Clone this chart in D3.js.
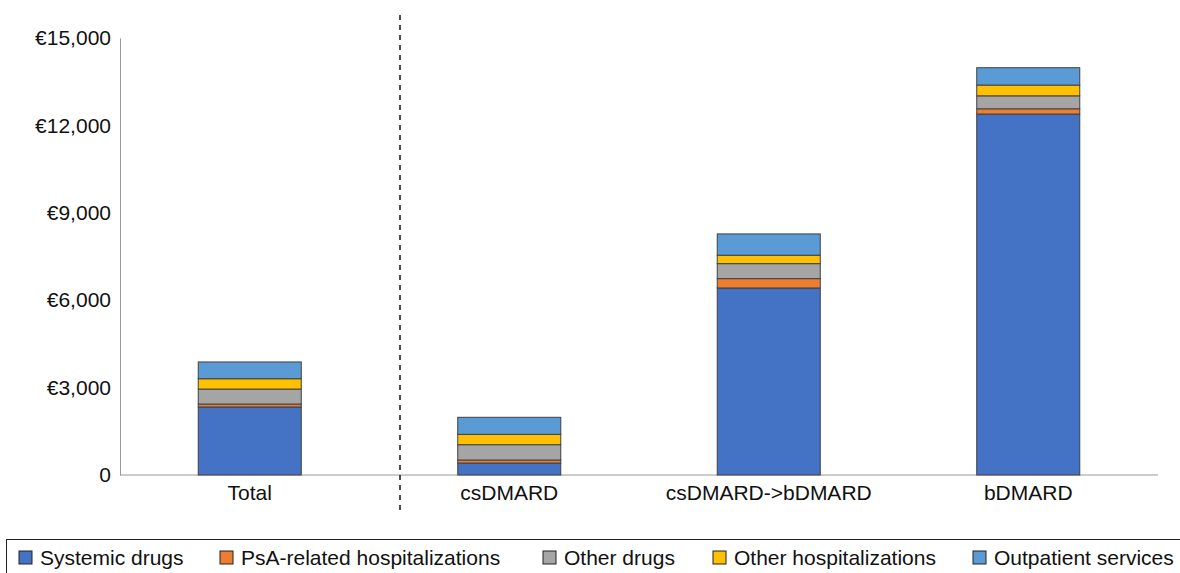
<!DOCTYPE html>
<html>
<head>
<meta charset="utf-8">
<script src="https://cdn.jsdelivr.net/npm/d3@7"></script>
<style>
  body { margin: 0; background: #fff; }
  svg { display: block; font-family: "Liberation Sans", Arial, sans-serif; }
</style>
</head>
<body>
<div id="chart"></div>
<script>
// data
var categories = ['Total', 'csDMARD', 'csDMARD->bDMARD', 'bDMARD'];
var seriesNames = ['Systemic drugs', 'PsA-related hospitalizations', 'Other drugs', 'Other hospitalizations', 'Outpatient services'];
var systemicDrugs     = [2335, 410, 6420, 12390];
var psaHosp           = [100, 105, 320, 180];
var otherDrugs        = [515, 525, 515, 445];
var otherHosp         = [355, 355, 290, 370];
var outpatient        = [575, 585, 730, 595];
var yTicks = [0, 3000, 6000, 9000, 12000, 15000];

var colors = ['#4472C4', '#ED7D31', '#A5A5A5', '#FFC000', '#5B9BD5'];

//layout
var width = 1180, height = 573;
var margin = {left: 120, right: 22, top: 38, bottom: 98};
var fontSize = 21;

var svg = d3.select('#chart').append('svg')
    .attr('width', width)
    .attr('height', height);

var x = d3.scaleBand()
    .domain(categories)
    .range([margin.left, width - margin.right])
    .paddingInner(0.603)
    .paddingOuter(0.3015);

var y = d3.scaleLinear()
    .domain([0, 15000])
    .range([height - margin.bottom, margin.top]);

//build rows for the stack
var rows = categories.map(function(c, i){
    return {
        cat: c,
        'Systemic drugs': systemicDrugs[i],
        'PsA-related hospitalizations': psaHosp[i],
        'Other drugs': otherDrugs[i],
        'Other hospitalizations': otherHosp[i],
        'Outpatient services': outpatient[i]
    };
});
var stacked = d3.stack().keys(seriesNames)(rows);

//axes
var yAxis = svg.append('g')
    .attr('transform', 'translate(' + margin.left + ',0)')
    .call(d3.axisLeft(y).tickValues(yTicks).tickSize(0).tickPadding(9)
        .tickFormat(function(d){ return d === 0 ? '0' : '€' + d3.format(',')(d); }));
yAxis.select('.domain').attr('stroke', '#999');
yAxis.selectAll('text').style('font-size', fontSize + 'px').attr('fill', '#111');

var xAxis = svg.append('g')
    .attr('transform', 'translate(0,' + y(0) + ')')
    .call(d3.axisBottom(x).tickSize(0).tickPadding(10));
xAxis.select('.domain').attr('stroke', '#999').attr('d', 'M' + margin.left + ',0H' + (width - margin.right));
xAxis.selectAll('text').style('font-size', fontSize + 'px').attr('fill', '#111');

//bars
svg.append('g').selectAll('g')
    .data(stacked)
    .enter().append('g')
        .attr('fill', function(d, i){ return colors[i]; })
    .selectAll('rect')
    .data(function(d){ return d; })
    .enter().append('rect')
        .attr('x', function(d){ return x(d.data.cat); })
        .attr('width', x.bandwidth())
        .attr('y', function(d){ return y(d[1]); })
        .attr('height', function(d){ return y(d[0]) - y(d[1]); })
        .attr('stroke', '#404040')
        .attr('stroke-width', 1);

//divider between Total and the subgroups
svg.append('line')
    .attr('x1', 400).attr('x2', 400)
    .attr('y1', 15).attr('y2', 512)
    .attr('stroke', '#111')
    .attr('stroke-width', 1.5)
    .attr('stroke-dasharray', '5,5');

//legend
var legend = svg.append('g');
legend.append('rect')
    .attr('x', 6.5).attr('y', 539.5)
    .attr('width', 1185).attr('height', 50)
    .attr('fill', 'none')
    .attr('stroke', '#222')
    .attr('stroke-width', 1);

var legendX = [19, 220, 543, 713, 973];
var items = legend.selectAll('g.item')
    .data(seriesNames)
    .enter().append('g')
        .attr('class', 'item')
        .attr('transform', function(d, i){ return 'translate(' + legendX[i] + ',551)'; });
items.append('rect')
    .attr('width', 13).attr('height', 13)
    .attr('fill', function(d, i){ return colors[i]; })
    .attr('stroke', '#222');
items.append('text')
    .attr('x', 21).attr('y', 14)
    .style('font-size', fontSize + 'px')
    .attr('fill', '#111')
    .text(function(d){ return d; });
</script>
</body>
</html>
